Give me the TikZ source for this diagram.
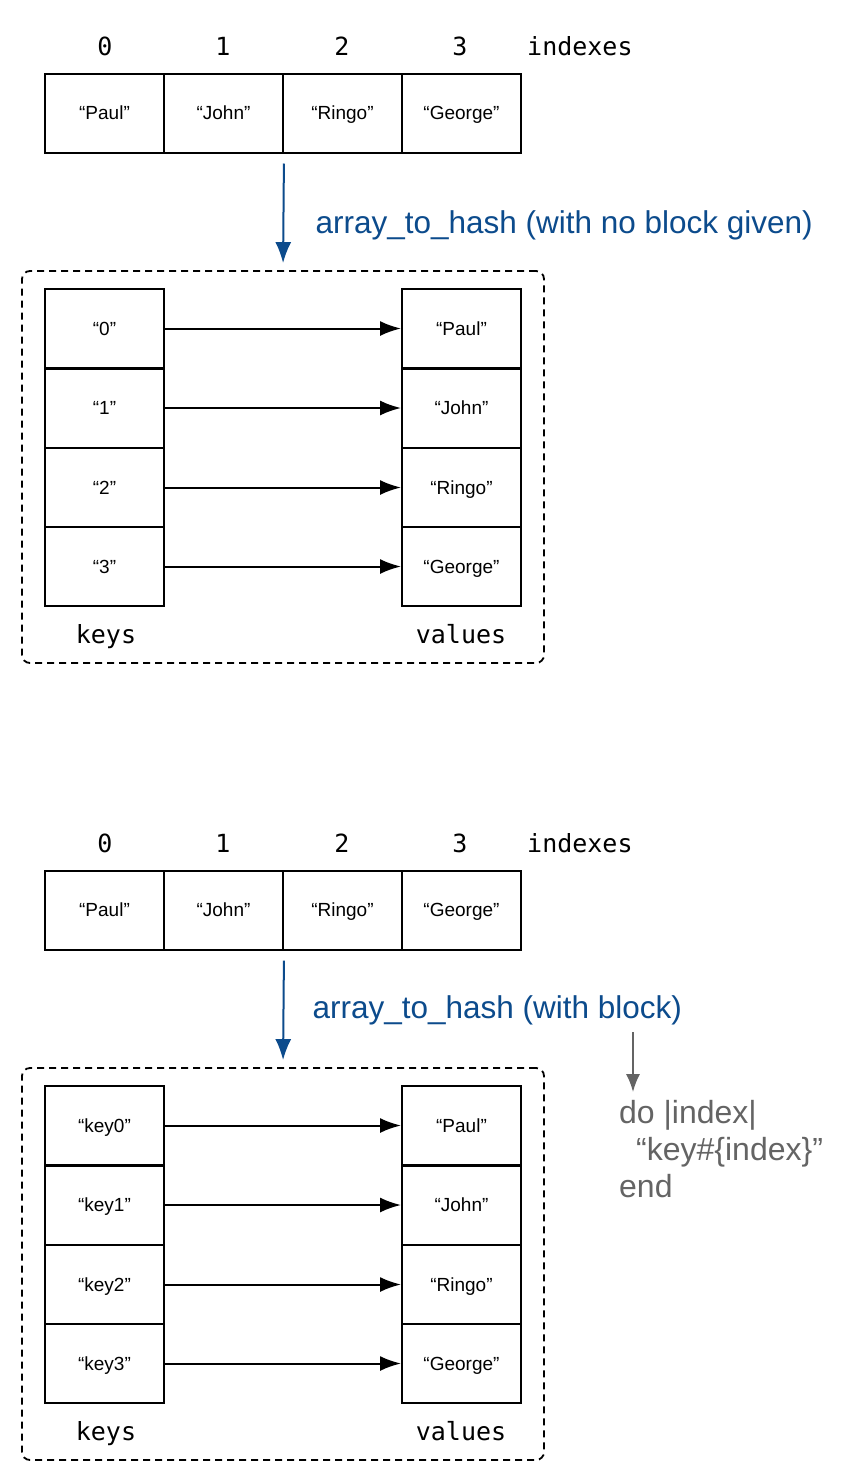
\documentclass[tikz,border=0pt]{standalone}
\usepackage{fontspec}
\setmainfont{Liberation Sans}
\setmonofont{DejaVu Sans Mono}
\usepackage{tikz}
\usetikzlibrary{arrows.meta,positioning,calc}
\usepackage{xcolor}
\definecolor{mapblue}{RGB}{12,75,140}
\definecolor{notegray}{RGB}{100,100,100}

\begin{document}
\begin{tikzpicture}[x=1pt, y=-1pt,
    cell/.style={draw, line width=2pt, minimum width=119pt, minimum height=79pt, inner sep=0pt, text height=14pt, text depth=1pt, font=\fontsize{19}{22}\selectfont},
    idxlabel/.style={text height=18pt, text depth=2pt, inner sep=0pt, font=\ttfamily\fontsize{25}{28}\selectfont},
    hashbox/.style={draw, dash pattern=on 7pt off 5pt, line width=1.8pt, rounded corners=8pt, minimum width=522pt, minimum height=392pt},
    link/.style={line width=2pt, -{Latex[length=21pt, width=15pt]}},
    maparrow/.style={mapblue, line width=2pt, -{Latex[length=21pt, width=16pt]}, shorten <=10pt, shorten >=7pt},
    maplabel/.style={mapblue, anchor=west, font=\fontsize{31.5}{36}\selectfont}]
    \useasboundingbox (0,0) rectangle (860,1484);

    % Without block: array
    \node[idxlabel] (i0) at (105,47) {0};
    \node[idxlabel] (i1) at (223,47) {1};
    \node[idxlabel] (i2) at (342,47) {2};
    \node[idxlabel] (i3) at (460,47) {3};
    \node[idxlabel, anchor=west] (idx) at (527,47) {indexes};
    \node[cell] (a0) at (104.5,113) {“Paul”};
    \node[cell] (a1) at (223.5,113) {“John”};
    \node[cell] (a2) at (342.5,113) {“Ringo”};
    \node[cell] (a3) at (461.5,113) {“George”};

    % Without block: hash
    \node[hashbox] (hash) at (283,467) {};
    \draw[maparrow] (a1.south east) -- (hash.north);
    \node[maplabel] (map) at (312,225) {array\_to\_hash (with no block given)};
    \node[cell] (k0) at (104.5,328.5) {“0”};
    \node[cell] (k1) at (104.5,408) {“1”};
    \node[cell] (k2) at (104.5,487.5) {“2”};
    \node[cell] (k3) at (104.5,566.5) {“3”};
    \node[cell] (v0) at (461.5,328.5) {“Paul”};
    \node[cell] (v1) at (461.5,408) {“John”};
    \node[cell] (v2) at (461.5,487.5) {“Ringo”};
    \node[cell] (v3) at (461.5,566.5) {“George”};
    \draw[link] (k0) -- (v0);
    \draw[link] (k1) -- (v1);
    \draw[link] (k2) -- (v2);
    \draw[link] (k3) -- (v3);
    \node[idxlabel] (keys) at (106,635) {keys};
    \node[idxlabel] (vals) at (461,635) {values};

    % With block: array
    \node[idxlabel] (bi0) at (105,844) {0};
    \node[idxlabel] (bi1) at (223,844) {1};
    \node[idxlabel] (bi2) at (342,844) {2};
    \node[idxlabel] (bi3) at (460,844) {3};
    \node[idxlabel, anchor=west] (bidx) at (527,844) {indexes};
    \node[cell] (b0) at (104.5,910) {“Paul”};
    \node[cell] (b1) at (223.5,910) {“John”};
    \node[cell] (b2) at (342.5,910) {“Ringo”};
    \node[cell] (b3) at (461.5,910) {“George”};

    % With block: hash
    \node[hashbox] (bhash) at (283,1264) {};
    \draw[maparrow] (b1.south east) -- (bhash.north);
    \node[maplabel] (bmap) at (309,1010) {array\_to\_hash (with block)};
    \node[cell] (bk0) at (104.5,1125.5) {“key0”};
    \node[cell] (bk1) at (104.5,1205) {“key1”};
    \node[cell] (bk2) at (104.5,1284.5) {“key2”};
    \node[cell] (bk3) at (104.5,1363.5) {“key3”};
    \node[cell] (bv0) at (461.5,1125.5) {“Paul”};
    \node[cell] (bv1) at (461.5,1205) {“John”};
    \node[cell] (bv2) at (461.5,1284.5) {“Ringo”};
    \node[cell] (bv3) at (461.5,1363.5) {“George”};
    \draw[link] (bk0) -- (bv0);
    \draw[link] (bk1) -- (bv1);
    \draw[link] (bk2) -- (bv2);
    \draw[link] (bk3) -- (bv3);
    \node[idxlabel] (bkeys) at (106,1432) {keys};
    \node[idxlabel] (bvals) at (461,1432) {values};

    % Block body
    \node[notegray, anchor=west, align=left, inner sep=0pt, font=\fontsize{32}{37}\selectfont] (blk) at (619,1149)
        {do |index|\\\hspace*{17pt}“key\#\{index\}”\\end};
    \coordinate (blkarg) at (633,1032);
    \draw[notegray, line width=1.8pt, -{Latex[length=18pt, width=14pt]}] (blkarg) -- ([yshift=8pt]blkarg |- blk.north);
\end{tikzpicture}
\end{document}
